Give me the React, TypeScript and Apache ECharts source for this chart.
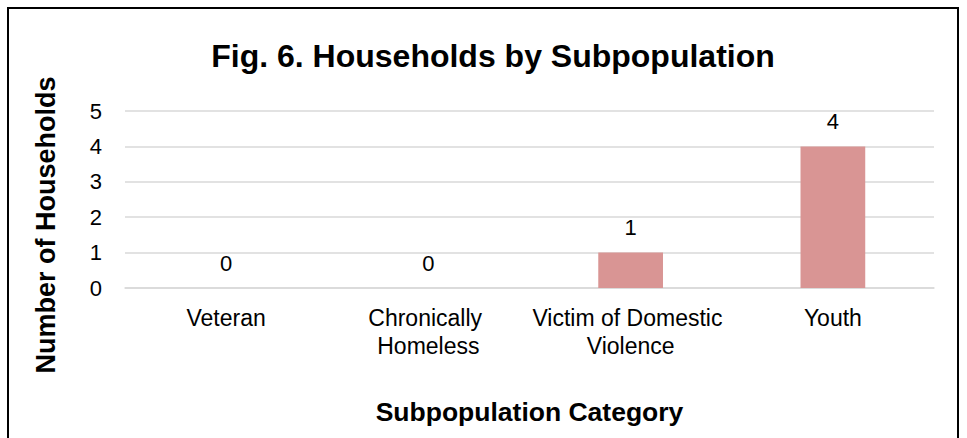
import React, { useEffect, useRef } from "react";
import * as echarts from "echarts";

const categories = ["Veteran", "Chronically Homeless", "Victim of Domestic Violence", "Youth"];
const households = [0, 0, 1, 4];
const yTicks = [0, 1, 2, 3, 4, 5];

const titleText = "Fig. 6. Households by Subpopulation";
const xTitle = "Subpopulation Category";
const yTitle = "Number of Households";

const FONT = "'Liberation Sans', Arial, Helvetica, sans-serif";

export default function App() {
  const ref = useRef<HTMLDivElement>(null);
  useEffect(() => {
    if (!ref.current) return;
    const chart = echarts.init(ref.current, null, { renderer: "svg" });
    chart.setOption({
      animation: false,
      backgroundColor: "#ffffff",
      textStyle: { fontFamily: FONT },
      title: {
        text: titleText,
        left: 488,
        textAlign: "center",
        top: 35,
        textStyle: { fontFamily: FONT, fontSize: 32, fontWeight: "bold", color: "#000" },
      },
      grid: { left: 125, right: 33, top: 111, bottom: 150, containLabel: false },
      xAxis: {
        type: "category",
        data: categories,
        name: xTitle,
        nameLocation: "middle",
        nameGap: 110,
        nameTextStyle: { fontFamily: FONT, fontSize: 26.5, fontWeight: "bold", color: "#000" },
        axisLine: { show: true, lineStyle: { color: "#d9d9d9", width: 1.5 } },
        axisTick: { show: false },
        axisLabel: {
          interval: 0,
          margin: 16,
          width: 200,
          overflow: "break",
          fontFamily: FONT,
          fontSize: 23,
          lineHeight: 28,
          color: "#000",
        },
      },
      yAxis: {
        type: "value",
        min: 0,
        max: yTicks[yTicks.length - 1],
        interval: 1,
        axisLine: { show: false },
        axisTick: { show: false },
        splitLine: { show: true, lineStyle: { color: "#d9d9d9", width: 1.5 } },
        axisLabel: { margin: 23, fontFamily: FONT, fontSize: 22, color: "#000" },
      },
      graphic: [
        {
          type: "rect",
          shape: { x: 8, y: 8, width: 950, height: 450 },
          style: { fill: "none", stroke: "#000", lineWidth: 2 },
          silent: true,
        },
        {
          type: "text",
          x: 46,
          y: 225,
          rotation: Math.PI / 2,
          style: {
            text: yTitle,
            fontFamily: FONT,
            fontSize: 27,
            fontWeight: "bold",
            fill: "#000",
            align: "center",
            verticalAlign: "middle",
          },
        },
      ],
      series: [
        {
          type: "bar",
          data: households,
          barWidth: "32%",
          itemStyle: { color: "#d99594" },
          label: {
            show: true,
            position: "top",
            distance: 14,
            fontFamily: FONT,
            fontSize: 22,
            color: "#000",
          },
        },
      ],
    });
    return () => chart.dispose();
  }, []);
  return (
    <div style={{ position: "fixed", left: 0, top: 0, width: 967, height: 438, overflow: "hidden" }}>
      <div ref={ref} style={{ width: 967, height: 438 }} />
    </div>
  );
}
